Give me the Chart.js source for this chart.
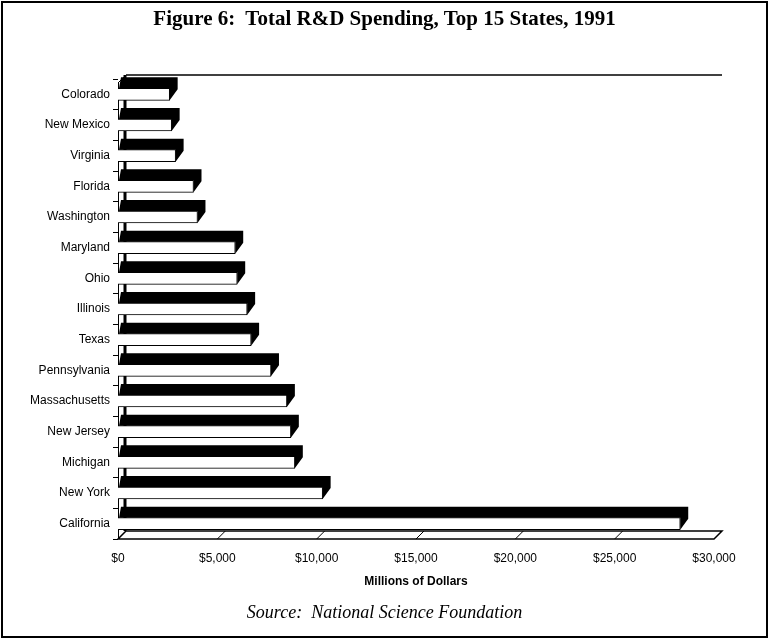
<!DOCTYPE html>
<html>
<head>
<meta charset="utf-8">
<script src="https://cdn.jsdelivr.net/npm/chart.js@4.4.1/dist/chart.umd.min.js"></script>
<style>
  html, body { margin: 0; padding: 0; background: #fff; }
  #wrap { position: relative; width: 769px; height: 639px; }
  #wrap canvas { position: absolute; left: 0; top: 0; }
  .caption {
    position: absolute; left: 0; width: 769px; text-align: center; color: #000;
    font-family: "Liberation Serif", "Times New Roman", serif; white-space: pre;
  }
  #title { top: 5px; font-size: 21px; font-weight: bold; line-height: 26px; }
  #source { top: 601px; font-size: 18px; font-style: italic; line-height: 22px; }
</style>
</head>
<body>
<div id="wrap">
  <canvas id="rdChart" width="769" height="639"></canvas>
  <div id="title" class="caption">Figure 6:  Total R&amp;D Spending, Top 15 States, 1991</div>
  <div id="source" class="caption">Source:  National Science Foundation</div>
</div>
<script>
// R&D spending, millions of dollars, 1991
const states = ['Colorado', 'New Mexico', 'Virginia', 'Florida', 'Washington', 'Maryland', 'Ohio',
  'Illinois', 'Texas', 'Pennsylvania', 'Massachusetts', 'New Jersey', 'Michigan', 'New York', 'California'];
const spending = [2600, 2700, 2900, 3800, 4000, 5900, 6000, 6500, 6700, 7700, 8500, 8700, 8900, 10300, 28300];
const xMin = 0;
const xMax = 30000;
const xStep = 5000;

const DX = 8;        // depth shift to the right
const BAR_DY = 11;   // depth shift up for the bars
const WALL_DY = 8;   // depth shift up for walls / floor

const frame3d = {
  id: 'frame3d',
  beforeDraw(chart) {
    const ctx = chart.ctx;
    ctx.save();
    ctx.strokeStyle = '#000';
    ctx.lineWidth = 2;
    ctx.strokeRect(2, 2, chart.width - 4, chart.height - 4);
    ctx.restore();
  },
  beforeDatasetsDraw(chart) {
    const ctx = chart.ctx;
    const ca = chart.chartArea;
    const xs = chart.scales.x;
    const backTop = ca.top - 4;
    const frontTop = backTop + WALL_DY;
    ctx.save();
    ctx.strokeStyle = '#000';

    // back wall top edge
    ctx.lineWidth = 1.5;
    ctx.beginPath();
    ctx.moveTo(ca.left + DX, backTop);
    ctx.lineTo(ca.right + DX, backTop);
    ctx.stroke();

    // left wall: front axis line, back edge, top diagonal
    ctx.lineWidth = 1;
    ctx.beginPath();
    ctx.moveTo(ca.left + 0.5, frontTop);
    ctx.lineTo(ca.left + 0.5, ca.bottom);
    ctx.moveTo(ca.left, frontTop);
    ctx.lineTo(ca.left + DX, backTop);
    ctx.stroke();
    ctx.lineWidth = 3;
    ctx.beginPath();
    ctx.moveTo(ca.left + DX - 1, backTop);
    ctx.lineTo(ca.left + DX - 1, ca.bottom - WALL_DY);
    ctx.stroke();

    // floor
    ctx.lineWidth = 1.5;
    ctx.beginPath();
    ctx.moveTo(ca.left + DX, ca.bottom - WALL_DY);
    ctx.lineTo(ca.right + DX, ca.bottom - WALL_DY);
    ctx.lineTo(ca.right, ca.bottom);
    ctx.lineTo(ca.left, ca.bottom);
    ctx.closePath();
    ctx.stroke();
    ctx.lineWidth = 1;
    xs.ticks.forEach(t => {
      const px = xs.getPixelForValue(t.value);
      ctx.beginPath();
      ctx.moveTo(px, ca.bottom);
      ctx.lineTo(px + DX, ca.bottom - WALL_DY);
      ctx.stroke();
    });

    // bar tops and right sides
    ctx.fillStyle = '#000';
    chart.getDatasetMeta(0).data.forEach(bar => {
      const top = bar.y - bar.height / 2;
      const bottom = bar.y + bar.height / 2;
      ctx.beginPath();
      ctx.moveTo(bar.base + 1, top);
      ctx.lineTo(bar.base + 3, top - BAR_DY);
      ctx.lineTo(bar.x + DX, top - BAR_DY);
      ctx.lineTo(bar.x + DX, bottom - BAR_DY);
      ctx.lineTo(bar.x, bottom);
      ctx.lineTo(bar.x, top);
      ctx.closePath();
      ctx.fill();
    });
    ctx.restore();
  }
};

new Chart(document.getElementById('rdChart'), {
  type: 'bar',
  data: {
    labels: states,
    datasets: [{
      data: spending,
      backgroundColor: '#fff',
      borderColor: '#000',
      borderWidth: 1,
      barThickness: 12
    }]
  },
  options: {
    indexAxis: 'y',
    responsive: false,
    animation: false,
    layout: { padding: { left: 0, right: 55, top: 79, bottom: 50 } },
    plugins: {
      legend: { display: false },
      tooltip: { enabled: false }
    },
    scales: {
      x: {
        min: xMin,
        max: xMax,
        grid: { display: false, drawTicks: false },
        border: { display: false },
        ticks: {
          stepSize: xStep,
          padding: 12,
          color: '#000',
          font: { family: '"Liberation Sans", Arial, sans-serif', size: 12 },
          callback: v => '$' + Number(v).toLocaleString('en-US')
        },
        title: {
          display: true,
          text: 'Millions of Dollars',
          color: '#000',
          font: { family: '"Liberation Sans", Arial, sans-serif', size: 12, weight: 'bold' },
          padding: 0
        },
        afterFit: s => { s.height = 50; }
      },
      y: {
        grid: { display: true, drawOnChartArea: false, drawTicks: true, tickLength: 5, color: '#000' },
        border: { display: false },
        ticks: {
          padding: 3,
          color: '#000',
          font: { family: '"Liberation Sans", Arial, sans-serif', size: 12 }
        },
        afterFit: s => { s.width = 118; }
      }
    }
  },
  plugins: [frame3d]
});
</script>
</body>
</html>
